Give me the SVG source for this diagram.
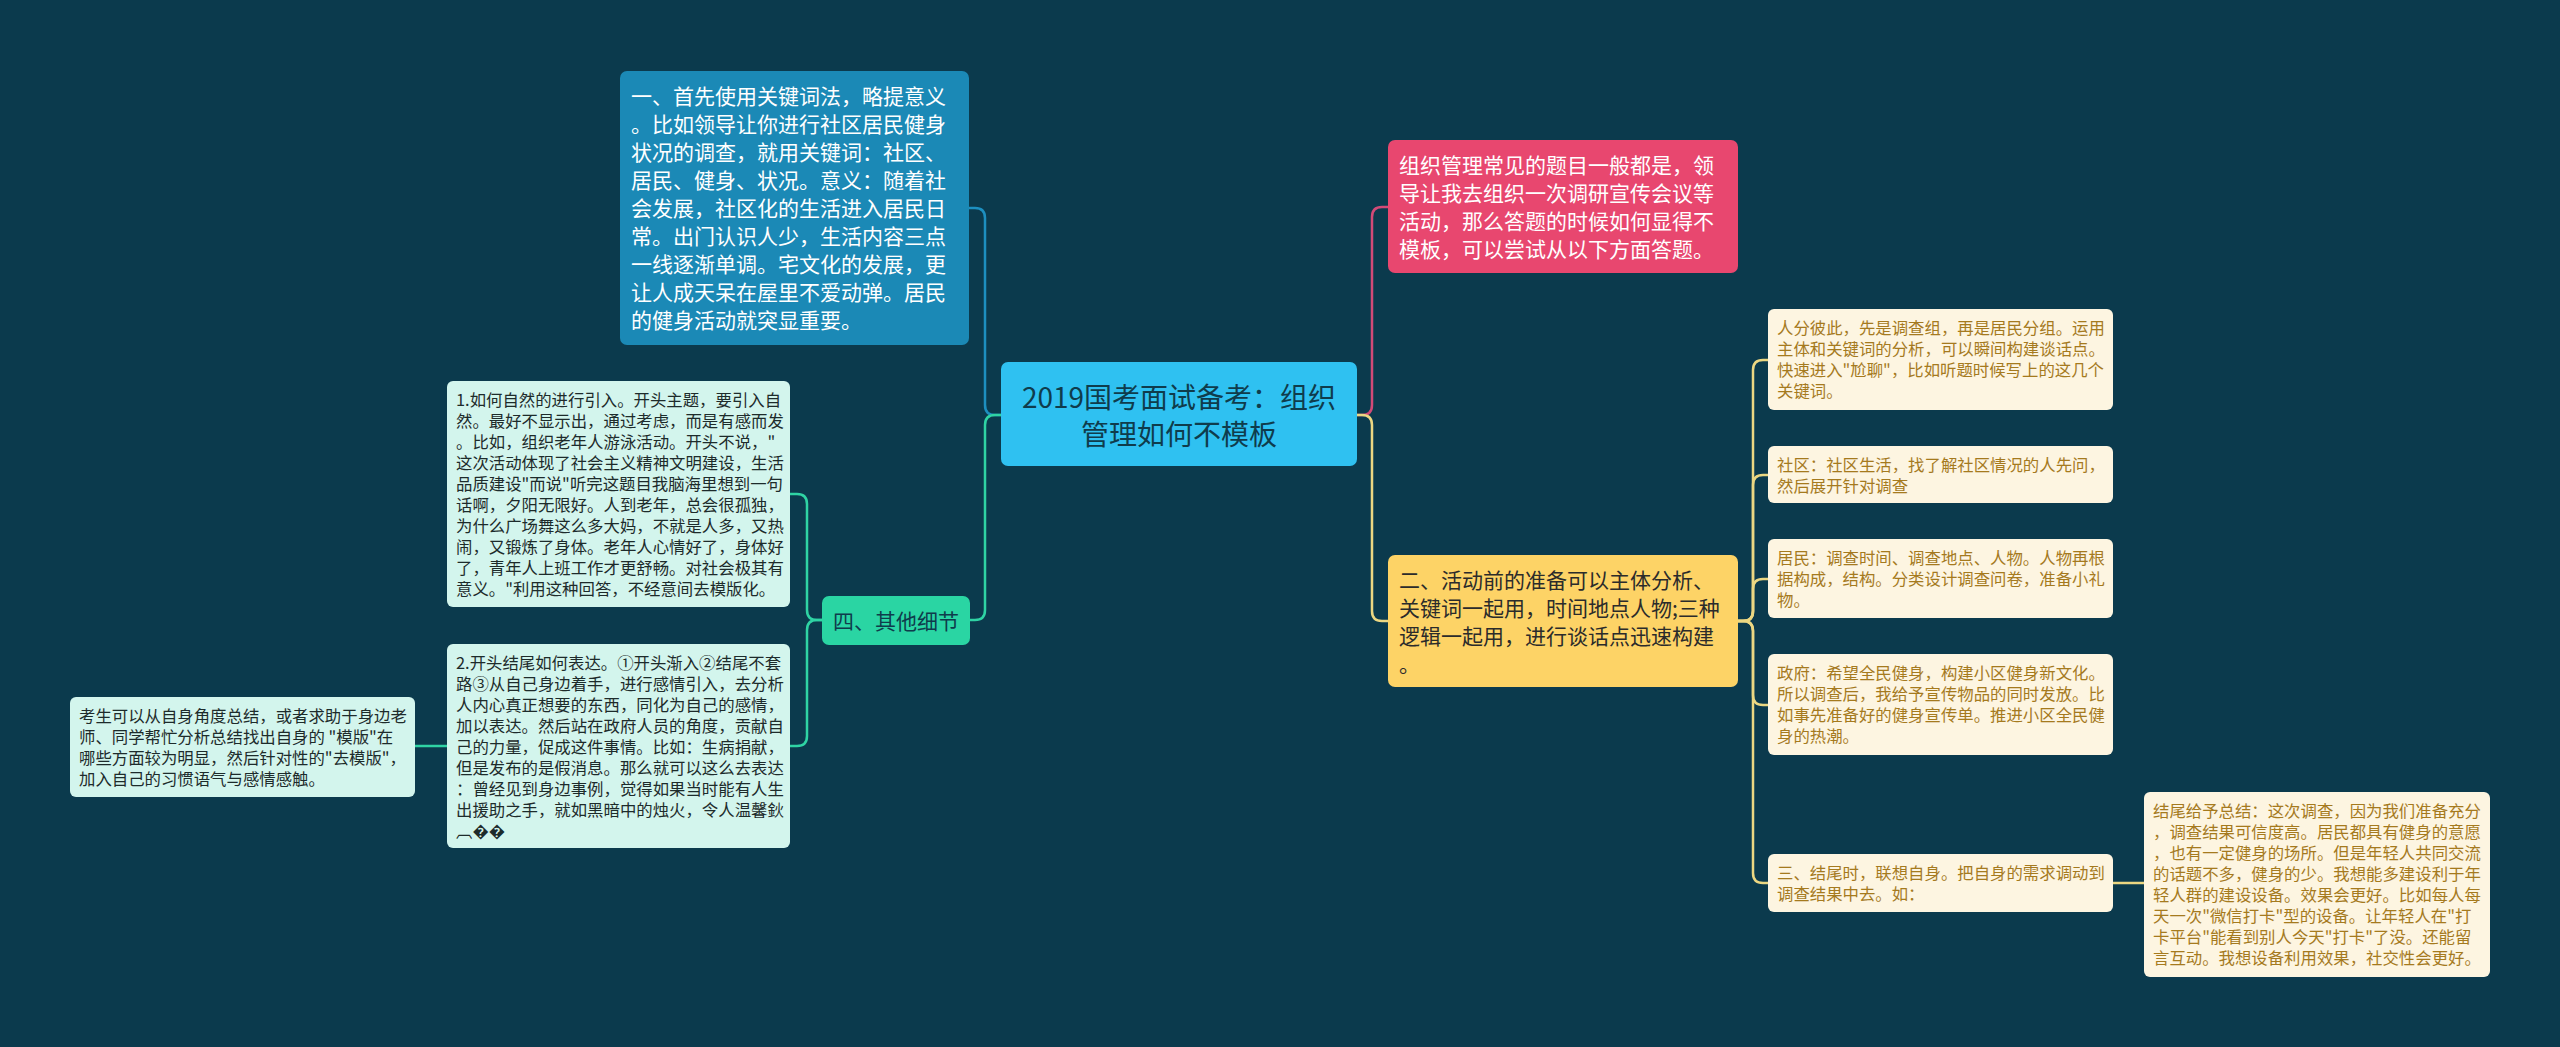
<svg xmlns="http://www.w3.org/2000/svg" width="2560" height="1047" viewBox="0 0 2560 1047">
<style>
text{font-family:"Noto Sans CJK SC","Noto Sans",sans-serif;}
.lg{font-size:21px;}
.sm{font-size:16.4px;}
.w{fill:#ffffff;}
.dk{fill:#2b2b2b;}
.nv{fill:#0f3c4c;}
.mt{fill:#1d2b2b;}
.gd{fill:#a57a1e;}
.c{fill:none;stroke-width:2.5;stroke-linecap:round;}
</style>
<rect x="0" y="0" width="2560" height="1047" fill="#0b3a4d"/>
<g id="connectors">
<path class="c" stroke="#d24a77" d="M1357,415 H1362 Q1372,415 1372,405 V217 Q1372,207 1382,207 H1388"/>
<path class="c" stroke="#ecd782" d="M1357,415 H1362 Q1372,415 1372,425 V611 Q1372,621 1382,621 H1388"/>
<path class="c" stroke="#ecd782" d="M1738,621 H1743 Q1753,621 1753,611 V370 Q1753,360 1763,360 H1768"/>
<path class="c" stroke="#ecd782" d="M1738,621 H1743 Q1753,621 1753,611 V485 Q1753,475 1763,475 H1768"/>
<path class="c" stroke="#ecd782" d="M1738,621 H1743 Q1753,621 1753,611 V589 Q1753,579 1763,579 H1768"/>
<path class="c" stroke="#ecd782" d="M1738,621 H1743 Q1753,621 1753,631 V695 Q1753,705 1763,705 H1768"/>
<path class="c" stroke="#ecd782" d="M1738,621 H1743 Q1753,621 1753,631 V873 Q1753,883 1763,883 H1768"/>
<path class="c" stroke="#ecd782" d="M2113,883 H2144"/>
<path class="c" stroke="#1d8fc0" d="M1001,415 H995 Q985,415 985,405 V218 Q985,208 975,208 H969"/>
<path class="c" stroke="#2fd3a4" d="M1001,415 H995 Q985,415 985,425 V610 Q985,620 975,620 H970"/>
<path class="c" stroke="#2fd3a4" d="M822,620 H817 Q807,620 807,610 V504 Q807,494 797,494 H790"/>
<path class="c" stroke="#2fd3a4" d="M822,620 H817 Q807,620 807,630 V736 Q807,746 797,746 H790"/>
<path class="c" stroke="#2fd3a4" d="M447,746 H415"/>
</g>
<g id="center">
<rect x="1001" y="362" width="356" height="104" rx="7" fill="#2fc1f1"/>
<text class="nv" font-size="28" text-anchor="middle"><tspan x="1179" y="407.6">2019国考面试备考：组织</tspan><tspan x="1179" y="444.6">管理如何不模板</tspan></text>
</g>
<g id="pink">
<rect x="1388" y="140" width="350" height="133" rx="7" fill="#e8476f"/>
<text class="lg w"><tspan x="1399" y="172.5">组织管理常见的题目一般都是，领</tspan><tspan x="1399" y="200.5">导让我去组织一次调研宣传会议等</tspan><tspan x="1399" y="228.5">活动，那么答题的时候如何显得不</tspan><tspan x="1399" y="256.5">模板，可以尝试从以下方面答题。</tspan></text>
</g>
<g id="yellow">
<rect x="1388" y="555" width="350" height="132" rx="7" fill="#fdd366"/>
<text class="lg dk"><tspan x="1399" y="588">二、活动前的准备可以主体分析、</tspan><tspan x="1399" y="616">关键词一起用，时间地点人物;三种</tspan><tspan x="1399" y="644">逻辑一起用，进行谈话点迅速构建</tspan><tspan x="1399" y="672">。</tspan></text>
</g>
<g id="nodeA">
<rect x="1768" y="309" width="345" height="101" rx="6" fill="#fdf5e1"/>
<text class="sm gd"><tspan x="1777" y="333.7">人分彼此，先是调查组，再是居民分组。运用</tspan><tspan x="1777" y="354.7">主体和关键词的分析，可以瞬间构建谈话点。</tspan><tspan x="1777" y="375.7">快速进入"尬聊"，比如听题时候写上的这几个</tspan><tspan x="1777" y="396.7">关键词。</tspan></text>
</g>
<g id="nodeB">
<rect x="1768" y="446" width="345" height="57" rx="6" fill="#fdf5e1"/>
<text class="sm gd"><tspan x="1777" y="470.7">社区：社区生活，找了解社区情况的人先问，</tspan><tspan x="1777" y="491.7">然后展开针对调查</tspan></text>
</g>
<g id="nodeC">
<rect x="1768" y="539" width="345" height="79" rx="6" fill="#fdf5e1"/>
<text class="sm gd"><tspan x="1777" y="563.7">居民：调查时间、调查地点、人物。人物再根</tspan><tspan x="1777" y="584.7">据构成，结构。分类设计调查问卷，准备小礼</tspan><tspan x="1777" y="605.7">物。</tspan></text>
</g>
<g id="nodeD">
<rect x="1768" y="654" width="345" height="101" rx="6" fill="#fdf5e1"/>
<text class="sm gd"><tspan x="1777" y="678.7">政府：希望全民健身，构建小区健身新文化。</tspan><tspan x="1777" y="699.7">所以调查后，我给予宣传物品的同时发放。比</tspan><tspan x="1777" y="720.7">如事先准备好的健身宣传单。推进小区全民健</tspan><tspan x="1777" y="741.7">身的热潮。</tspan></text>
</g>
<g id="nodeE">
<rect x="1768" y="854" width="345" height="58" rx="6" fill="#fdf5e1"/>
<text class="sm gd"><tspan x="1777" y="878.7">三、结尾时，联想自身。把自身的需求调动到</tspan><tspan x="1777" y="899.7">调查结果中去。如：</tspan></text>
</g>
<g id="nodeF">
<rect x="2144" y="792" width="346" height="185" rx="6" fill="#fdf5e1"/>
<text class="sm gd"><tspan x="2153" y="816.7">结尾给予总结：这次调查，因为我们准备充分</tspan><tspan x="2153" y="837.7">，调查结果可信度高。居民都具有健身的意愿</tspan><tspan x="2153" y="858.7">，也有一定健身的场所。但是年轻人共同交流</tspan><tspan x="2153" y="879.7">的话题不多，健身的少。我想能多建设利于年</tspan><tspan x="2153" y="900.7">轻人群的建设设备。效果会更好。比如每人每</tspan><tspan x="2153" y="921.7">天一次"微信打卡"型的设备。让年轻人在"打</tspan><tspan x="2153" y="942.7">卡平台"能看到别人今天"打卡"了没。还能留</tspan><tspan x="2153" y="963.7">言互动。我想设备利用效果，社交性会更好。</tspan></text>
</g>
<g id="blue">
<rect x="620" y="71" width="349" height="274" rx="7" fill="#1b89b6"/>
<text class="lg w"><tspan x="631" y="104">一、首先使用关键词法，略提意义</tspan><tspan x="631" y="132">。比如领导让你进行社区居民健身</tspan><tspan x="631" y="160">状况的调查，就用关键词：社区、</tspan><tspan x="631" y="188">居民、健身、状况。意义：随着社</tspan><tspan x="631" y="216">会发展，社区化的生活进入居民日</tspan><tspan x="631" y="244">常。出门认识人少，生活内容三点</tspan><tspan x="631" y="272">一线逐渐单调。宅文化的发展，更</tspan><tspan x="631" y="300">让人成天呆在屋里不爱动弹。居民</tspan><tspan x="631" y="328">的健身活动就突显重要。</tspan></text>
</g>
<g id="other">
<rect x="822" y="596" width="148" height="49" rx="7" fill="#2ad5a3"/>
<text class="lg nv" text-anchor="middle" x="896" y="629">四、其他细节</text>
</g>
<g id="mint1">
<rect x="447" y="381" width="343" height="226" rx="6" fill="#d3f5ed"/>
<text class="sm mt"><tspan x="456" y="405.7">1.如何自然的进行引入。开头主题，要引入自</tspan><tspan x="456" y="426.7">然。最好不显示出，通过考虑，而是有感而发</tspan><tspan x="456" y="447.7">。比如，组织老年人游泳活动。开头不说，"</tspan><tspan x="456" y="468.7">这次活动体现了社会主义精神文明建设，生活</tspan><tspan x="456" y="489.7">品质建设"而说"听完这题目我脑海里想到一句</tspan><tspan x="456" y="510.7">话啊，夕阳无限好。人到老年，总会很孤独，</tspan><tspan x="456" y="531.7">为什么广场舞这么多大妈，不就是人多，又热</tspan><tspan x="456" y="552.7">闹，又锻炼了身体。老年人心情好了，身体好</tspan><tspan x="456" y="573.7">了，青年人上班工作才更舒畅。对社会极其有</tspan><tspan x="456" y="594.7">意义。"利用这种回答，不经意间去模版化。</tspan></text>
</g>
<g id="mint2">
<rect x="447" y="644" width="343" height="204" rx="6" fill="#d3f5ed"/>
<text class="sm mt"><tspan x="456" y="668.7">2.开头结尾如何表达。①开头渐入②结尾不套</tspan><tspan x="456" y="689.7">路③从自己身边着手，进行感情引入，去分析</tspan><tspan x="456" y="710.7">人内心真正想要的东西，同化为自己的感情，</tspan><tspan x="456" y="731.7">加以表达。然后站在政府人员的角度，贡献自</tspan><tspan x="456" y="752.7">己的力量，促成这件事情。比如：生病捐献，</tspan><tspan x="456" y="773.7">但是发布的是假消息。那么就可以这么去表达</tspan><tspan x="456" y="794.7">：曾经见到身边事例，觉得如果当时能有人生</tspan><tspan x="456" y="815.7">出援助之手，就如黑暗中的烛火，令人温馨鈥</tspan><tspan x="456" y="836.7">︹��</tspan></text>
</g>
<g id="mint3">
<rect x="70" y="697" width="345" height="100" rx="6" fill="#d3f5ed"/>
<text class="sm mt"><tspan x="79" y="721.7">考生可以从自身角度总结，或者求助于身边老</tspan><tspan x="79" y="742.7">师、同学帮忙分析总结找出自身的 "模版"在</tspan><tspan x="79" y="763.7">哪些方面较为明显，然后针对性的"去模版"，</tspan><tspan x="79" y="784.7">加入自己的习惯语气与感情感触。</tspan></text>
</g>
</svg>
